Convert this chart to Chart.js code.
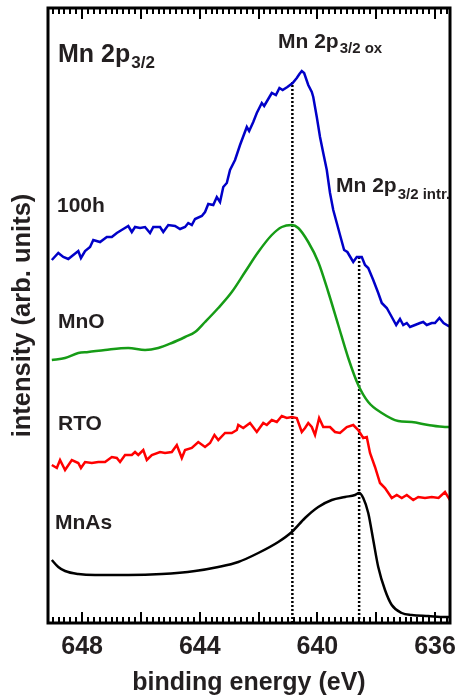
<!DOCTYPE html>
<html lang="en">
<head>
<meta charset="UTF-8">
<title>Mn 2p3/2 spectra</title>
<script src="https://cdn.jsdelivr.net/npm/chart.js"></script>
<style>
  body { margin: 0; background: #fff; }
  #chart { display: block; }
</style>
</head>
<body>
<canvas id="chart" width="458" height="700"></canvas>
<script>
// binding energy (eV) / intensity (arb. units, traces offset vertically)
const e100h = [649.03,648.81,648.64,648.47,648.30,648.13,648.04,647.90,647.73,647.62,647.39,647.16,646.99,646.82,646.60,646.43,646.31,646.20,646.03,645.86,645.69,645.58,645.35,645.24,645.07,644.84,644.67,644.50,644.39,644.27,644.16,643.93,643.82,643.71,643.54,643.42,643.31,643.20,643.08,642.97,642.80,642.63,642.40,642.32,642.18,642.06,641.89,641.81,641.67,641.55,641.41,641.29,641.18,641.02,640.84,640.70,640.61,640.53,640.45,640.31,640.19,640.14,640.02,639.91,639.80,639.68,639.57,639.46,639.34,639.23,639.09,638.98,638.86,638.78,638.66,638.49,638.38,638.27,638.10,637.93,637.81,637.64,637.47,637.32,637.19,637.08,636.96,636.85,636.68,636.51,636.40,636.28,636.11,636.00,635.85,635.71,635.54,635.49];
const i100h = [363,370,366,364,368,372,365,372,376,383,381,386,386,390,394,397,391,396,395,396,390,396,396,391,398,397,394,396,400,398,404,407,411,419,418,426,421,436,440,453,463,478,496,492,501,510,520,517,524,530,528,535,533,536,540,545,549,552,550,538,531,526,506,486,470,453,430,413,400,388,373,371,365,361,366,366,358,355,343,330,320,315,306,298,304,298,300,296,298,300,301,298,300,300,305,300,297,298];

const eMnO = [649.03,648.58,648.13,647.79,647.22,646.43,645.86,645.41,644.95,644.50,644.16,643.82,643.37,642.91,642.46,642.01,641.55,641.21,640.87,640.65,640.31,639.97,639.63,639.29,638.95,638.61,638.27,637.81,637.25,636.79,636.23,635.66,635.49];
const iMnO = [263,265,270,271,273,275,273,275,280,286,291,301,315,331,351,371,388,396,398,395,381,361,331,298,265,238,221,210,202,201,198,196,196];

const eRTO = [649.03,648.86,648.75,648.58,648.35,648.13,648.04,647.90,647.67,647.45,647.22,646.99,646.82,646.71,646.54,646.31,646.20,646.09,645.92,645.80,645.63,645.35,645.18,644.95,644.78,644.61,644.50,644.27,644.05,643.82,643.65,643.50,643.37,643.14,642.91,642.74,642.69,642.52,642.29,642.06,641.84,641.72,641.55,641.38,641.21,641.04,640.87,640.70,640.53,640.42,640.31,640.19,640.08,639.94,639.80,639.57,639.40,639.23,639.00,638.78,638.61,638.44,638.32,638.21,638.04,637.87,637.70,637.47,637.30,637.13,636.96,636.74,636.57,636.34,636.11,635.88,635.66,635.49];
const iRTO = [158,155,163,153,163,160,155,161,160,161,161,166,165,161,168,168,171,168,173,163,168,171,170,171,178,165,173,175,181,176,180,188,183,190,190,193,198,195,200,191,200,198,203,201,207,205,206,205,191,195,200,196,188,205,196,196,191,190,196,198,193,185,186,170,156,140,135,125,128,125,128,123,126,125,126,125,131,123];

const eMnAs = [649.03,648.81,648.58,648.13,647.56,646.43,645.29,644.16,643.37,642.69,642.01,641.33,640.87,640.42,639.97,639.51,639.06,638.72,638.58,638.44,638.27,638.10,637.93,637.70,637.47,637.13,636.79,636.23,635.66,635.49];
const iMnAs = [63,56,52,49,48,48,49,52,56,61,70,81,91,105,116,123,126,128,130,125,110,83,56,33,18,10,8,7,6,6];

// peak markers: position (eV) and height the dotted line reaches
const peakE = [640.85, 638.58];
const peakTop = [541, 365];

const xTickLabels = [636, 640, 644, 648];
const xMin = 635.49, xMax = 649.16;

const FONT = "'Liberation Sans', Arial, sans-serif";
const TEXT = '#231f20';

function pts(xs, ys) {
    return xs.map((x, i) => ({ x: x, y: ys[i] }));
}

function curve(xs, ys, color, smooth) {
    return {
        data: pts(xs, ys),
        borderColor: color,
        borderWidth: 2.5,
        pointRadius: 0,
        tension: smooth ? 0.4 : 0,
        cubicInterpolationMode: smooth ? 'monotone' : 'default',
        order: 1
    };
}

function marker(e, top) {
    return {
        data: [{ x: e, y: 0 }, { x: e, y: top }],
        borderColor: '#000',
        borderWidth: 2.5,
        borderDash: [2, 2],
        pointRadius: 0,
        order: 5
    };
}

// label with a subscript, e.g. Mn 2p_3/2
function subText(ctx, x, y, main, sub, size, subSize, drop) {
    ctx.font = 'bold ' + size + 'px ' + FONT;
    ctx.fillText(main, x, y);
    const w = ctx.measureText(main).width;
    ctx.font = 'bold ' + subSize + 'px ' + FONT;
    ctx.fillText(sub, x + w + 1, y + drop);
}

const frame = {
    id: 'frame',
    afterDraw(chart) {
        const ctx = chart.ctx;
        const a = chart.chartArea;
        const sx = chart.scales.x;
        ctx.save();
        ctx.setLineDash([]);
        ctx.fillStyle = '#000';

        // inward ticks, minor every 0.2 eV, long every 2 eV, on top and bottom
        const k0 = Math.ceil(xMin * 5), k1 = Math.floor(xMax * 5);
        for (let k = k0; k <= k1; k++) {
            const px = Math.round(sx.getPixelForValue(k / 5));
            const len = k % 10 === 0 ? 11 : 6;
            ctx.fillRect(px - 1, a.bottom - len, 2, len);
            ctx.fillRect(px - 1, a.top, 2, len);
        }

        ctx.strokeStyle = '#000';
        ctx.lineWidth = 3;
        ctx.strokeRect(a.left, a.top, a.right - a.left, a.bottom - a.top);

        ctx.fillStyle = TEXT;
        ctx.textAlign = 'left';
        ctx.textBaseline = 'alphabetic';
        subText(ctx, 58, 62, 'Mn 2p', '3/2', 25, 17, 6);
        subText(ctx, 278, 48, 'Mn 2p', '3/2 ox', 21, 15, 5);
        subText(ctx, 336, 192, 'Mn 2p', '3/2 intr.', 21, 15, 7);

        ctx.font = 'bold 21px ' + FONT;
        ctx.fillText('100h', 57, 212);
        ctx.fillText('MnO', 58, 328);
        ctx.fillText('RTO', 58, 430);
        ctx.fillText('MnAs', 55, 529);
        ctx.restore();
    }
};

new Chart(document.getElementById('chart'), {
    type: 'line',
    data: {
        datasets: [
            curve(e100h, i100h, '#0000c8', false),
            curve(eMnO, iMnO, '#169c16', true),
            curve(eRTO, iRTO, '#ff0000', false),
            curve(eMnAs, iMnAs, '#000000', true),
            marker(peakE[0], peakTop[0]),
            marker(peakE[1], peakTop[1])
        ]
    },
    options: {
        responsive: false,
        animation: false,
        devicePixelRatio: 1,
        layout: { padding: { top: 8, right: 8, bottom: 0, left: 0 } },
        plugins: { legend: { display: false }, tooltip: { enabled: false } },
        scales: {
            x: {
                type: 'linear',
                reverse: true,
                min: xMin,
                max: xMax,
                grid: { display: false, drawTicks: false },
                border: { display: false },
                afterBuildTicks: s => { s.ticks = xTickLabels.map(v => ({ value: v })); },
                ticks: {
                    font: { family: FONT, size: 25, weight: 'bold' },
                    color: TEXT,
                    padding: 9,
                    maxRotation: 0,
                    autoSkip: false
                },
                title: {
                    display: true,
                    text: 'binding energy (eV)',
                    color: TEXT,
                    font: { family: FONT, size: 25, weight: 'bold', lineHeight: 1 },
                    padding: { top: 0, bottom: 4 }
                }
            },
            y: {
                min: 0,
                max: 615,
                grid: { display: false, drawTicks: false },
                border: { display: false },
                ticks: { display: false },
                title: {
                    display: true,
                    text: 'intensity (arb. units)',
                    color: TEXT,
                    font: { family: FONT, size: 25.5, weight: 'bold', lineHeight: 1.2 },
                    padding: { top: 7.5, bottom: 9.9 }
                }
            }
        }
    },
    plugins: [frame]
});
</script>
</body>
</html>
